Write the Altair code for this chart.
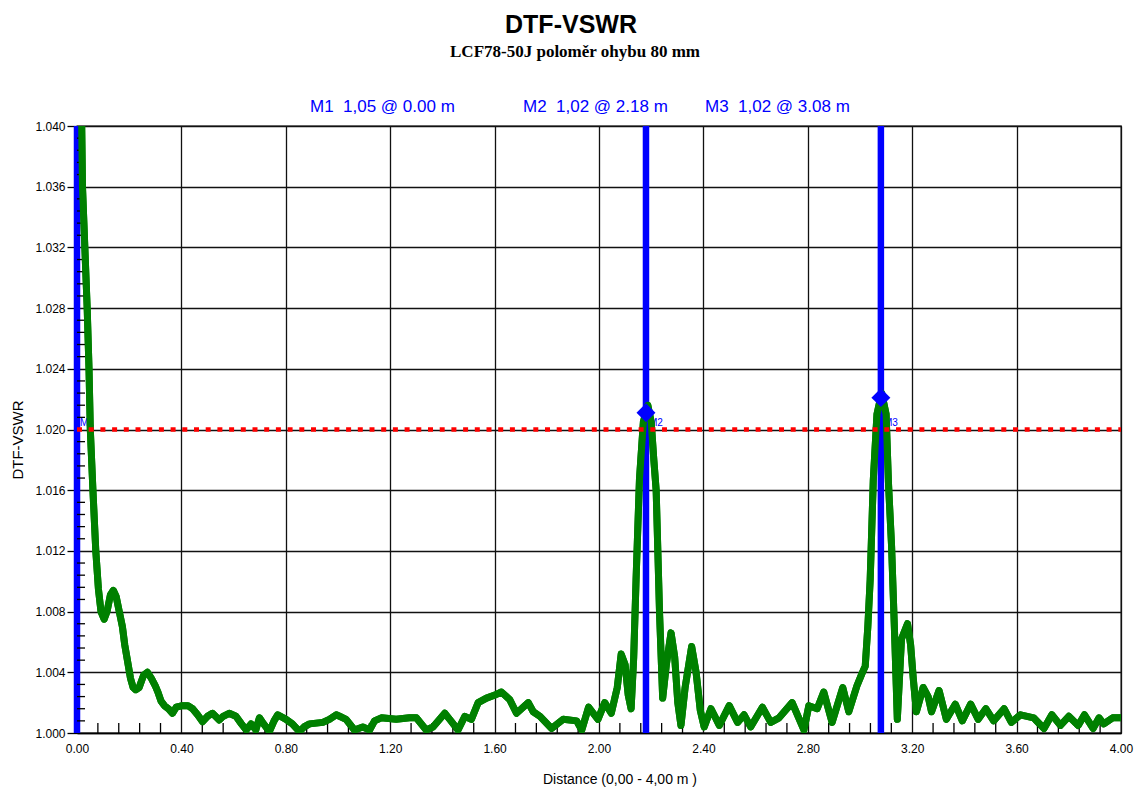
import altair as alt
import pandas as pd

# ---- chart texts ----
title_text = "DTF-VSWR"
subtitle_text = "LCF78-50J poloměr ohybu 80 mm"
y_title = "DTF-VSWR"
x_title = "Distance (0,00 - 4,00 m )"

# ---- axes ----
x_ticks = [0.0, 0.4, 0.8, 1.2, 1.6, 2.0, 2.4, 2.8, 3.2, 3.6, 4.0]
y_ticks = [1.000, 1.004, 1.008, 1.012, 1.016, 1.020, 1.024, 1.028, 1.032, 1.036, 1.040]
x_minor = [round(0.08 * i, 2) for i in range(51) if i % 5]
y_minor = [round(1.0 + 0.0008 * i, 4) for i in range(51) if i % 5]

# ---- limit line ----
limit_vswr = 1.020

# ---- markers ----
marker_names = ["M1", "M2", "M3"]
marker_dist = [0.00, 2.18, 3.08]
marker_vswr = [1.05, 1.0211, 1.0221]

# ---- distance-to-fault trace ----
distance_m = [
    0.000, 0.018, 0.021, 0.030, 0.039, 0.046, 0.051, 0.061, 0.072, 0.082,
    0.092, 0.104, 0.115, 0.128, 0.139, 0.150, 0.162, 0.174, 0.183, 0.193,
    0.205, 0.215, 0.225, 0.238, 0.255, 0.270, 0.285, 0.300, 0.310, 0.322,
    0.335, 0.350, 0.366, 0.380, 0.404, 0.425, 0.443, 0.462, 0.481, 0.500,
    0.519, 0.545, 0.560, 0.583, 0.609, 0.630, 0.648, 0.667, 0.685, 0.699,
    0.715, 0.737, 0.755, 0.769, 0.801, 0.825, 0.852, 0.870, 0.891, 0.942,
    0.967, 0.993, 1.006, 1.031, 1.063, 1.095, 1.121, 1.140, 1.166, 1.223,
    1.274, 1.300, 1.338, 1.364, 1.409, 1.428, 1.460, 1.486, 1.511, 1.537,
    1.569, 1.601, 1.626, 1.658, 1.684, 1.729, 1.748, 1.774, 1.818, 1.863,
    1.914, 1.934, 1.960, 1.996, 2.022, 2.047, 2.070, 2.085, 2.100, 2.112,
    2.123, 2.133, 2.142, 2.155, 2.170, 2.187, 2.200, 2.210, 2.219, 2.232,
    2.244, 2.258, 2.276, 2.290, 2.302, 2.314, 2.330, 2.355, 2.372, 2.388,
    2.403, 2.429, 2.461, 2.499, 2.531, 2.556, 2.581, 2.626, 2.658, 2.690,
    2.740, 2.785, 2.804, 2.836, 2.861, 2.893, 2.934, 2.957, 2.988, 3.007,
    3.020, 3.030, 3.039, 3.051, 3.065, 3.083, 3.100, 3.109, 3.121, 3.134,
    3.143, 3.159, 3.182, 3.194, 3.204, 3.216, 3.242, 3.261, 3.274, 3.303,
    3.331, 3.365, 3.392, 3.424, 3.453, 3.482, 3.512, 3.552, 3.580, 3.615,
    3.665, 3.705, 3.735, 3.768, 3.800, 3.836, 3.860, 3.893, 3.916, 3.934,
    3.968, 4.000,
]
vswr = [
    1.0500, 1.0400, 1.0360, 1.0320, 1.0280, 1.0240, 1.0200, 1.0160, 1.0120, 1.0095,
    1.0080, 1.0075, 1.0080, 1.0091, 1.0094, 1.0090, 1.0080, 1.0070, 1.0058, 1.0048,
    1.0036, 1.0030, 1.00285, 1.0030, 1.0038, 1.0040, 1.0036, 1.0031, 1.0027, 1.0021,
    1.0018, 1.0016, 1.0013, 1.0017, 1.0018, 1.0018, 1.0016, 1.0012, 1.00075, 1.0011,
    1.0013, 1.00086, 1.0011, 1.0013, 1.0011, 1.0006, 1.0002, 1.0006, 1.0002, 1.0010,
    1.0006, 1.0001, 1.0008, 1.0012, 1.0009, 1.0006, 1.0001, 1.0004, 1.0006, 1.0007,
    1.0009, 1.0012, 1.0011, 1.0009, 1.0002, 1.0004, 1.0002, 1.0008, 1.0010, 1.0009,
    1.0010, 1.0010, 1.0002, 1.0004, 1.0013, 1.0009, 1.0002, 1.0011, 1.0009, 1.0020,
    1.0023, 1.0025, 1.0027, 1.0022, 1.0013, 1.0020, 1.0014, 1.0011, 1.0003, 1.0009,
    1.0008, 1.0002, 1.0017, 1.0009, 1.0020, 1.0013, 1.0030, 1.0052, 1.0045, 1.0025,
    1.0016, 1.0050, 1.0101, 1.0167, 1.0205, 1.0216, 1.0205, 1.0180, 1.0160, 1.0079,
    1.0023, 1.0045, 1.0066, 1.0050, 1.0020, 1.0005, 1.0030, 1.0057, 1.0040, 1.0015,
    1.0004, 1.0016, 1.0005, 1.0018, 1.0007, 1.0012, 1.0004, 1.0017, 1.0007, 1.0010,
    1.0020, 1.0002, 1.0018, 1.0016, 1.0027, 1.0007, 1.0030, 1.0014, 1.0031, 1.0039,
    1.0044, 1.0070, 1.0101, 1.0167, 1.0210, 1.0224, 1.0210, 1.0165, 1.0123, 1.0058,
    1.0009, 1.0062, 1.0072, 1.0058, 1.0036, 1.0014, 1.0030, 1.0024, 1.0014, 1.0028,
    1.0009, 1.0019, 1.0008, 1.0019, 1.0009, 1.0016, 1.0008, 1.0016, 1.0007, 1.0012,
    1.0010, 1.0003, 1.0012, 1.0005, 1.0011, 1.0005, 1.0012, 1.0003, 1.0010, 1.0006,
    1.0010, 1.0010,
]

# ---- layout (pixels) ----
W, H = 1044, 607
SANS = "Liberation Sans"
SERIF = "Liberation Serif"

trace = pd.DataFrame({"distance": distance_m, "vswr": vswr})
markers = pd.DataFrame({"name": marker_names, "distance": marker_dist, "vswr": marker_vswr})
markers["label"] = [
    f"{n}\u00a0\u00a0{v:.2f}".replace(".", ",") + f" @ {d:.2f} m"
    for n, v, d in zip(marker_names, marker_vswr, marker_dist)
]

x_scale = alt.Scale(domain=[0, 4], nice=False, zero=False)
y_scale = alt.Scale(domain=[1.0, 1.04], nice=False, zero=False)

axis_common = dict(
    title=None, grid=True, gridColor="#111111", gridWidth=1.3,
    domainColor="black", domainWidth=1.5, labelColor="black",
    labelFont=SANS, labelFontSize=12, labelFlush=False, labelOverlap=False,
    labelBound=False,
)
# the same axis objects are used by every layer so the shared axes merge cleanly
x_axis = alt.Axis(values=x_ticks, format=".2f", ticks=False, labelPadding=10, **axis_common)
y_axis = alt.Axis(values=y_ticks, format=".3f", ticks=True, tickSize=10, tickColor="black",
                  tickWidth=1.3, labelPadding=2, **axis_common)


def X(field):
    return alt.X(field, scale=x_scale, axis=x_axis)


def Y(field):
    return alt.Y(field, scale=y_scale, axis=y_axis)


line = alt.Chart(trace).mark_line(
    color="#008000", strokeWidth=7, clip=True, strokeJoin="round"
).encode(x=X("distance:Q"), y=Y("vswr:Q"), order=alt.Order("distance:Q"))

# inward minor ticks
x_minor_ticks = alt.Chart(pd.DataFrame({"distance": x_minor})).mark_rule(
    color="black", strokeWidth=1.3
).encode(x=X("distance:Q"), y=alt.value(H), y2=alt.value(H - 10))
y_minor_ticks = alt.Chart(pd.DataFrame({"vswr": y_minor})).mark_rule(
    color="black", strokeWidth=1.3
).encode(y=Y("vswr:Q"), x=alt.value(0), x2=alt.value(8))

marker_lines = alt.Chart(markers).mark_rule(color="#0000FF", strokeWidth=6.5).encode(
    x=X("distance:Q"), y=alt.value(0), y2=alt.value(H)
)

marker_tags = alt.Chart(markers).transform_calculate(
    lim=str(limit_vswr)
).mark_text(
    color="#0000FF", font=SANS, fontSize=10, align="left", baseline="bottom", dx=3, dy=-2
).encode(x=X("distance:Q"), y=Y("lim:Q"), text="name:N")

limit_line = alt.Chart(pd.DataFrame({"vswr": [limit_vswr]})).mark_rule(
    color="#FF0000", strokeWidth=4.5, strokeDash=[5, 6.7]
).encode(y=Y("vswr:Q"), x=alt.value(0), x2=alt.value(W))

diamonds = alt.Chart(markers).mark_point(
    shape="diamond", filled=True, color="#0000FF", size=360, opacity=1, clip=True
).encode(x=X("distance:Q"), y=Y("vswr:Q"))


def text_layer(txt, x, y, **kw):
    return alt.Chart(pd.DataFrame({"t": [txt]})).mark_text(**kw).encode(
        text="t:N", x=alt.value(x), y=alt.value(y)
    )


header_x = [233, 446, 628]
headers = [
    text_layer(lbl, hx, -14, font=SANS, fontSize=17, color="#0000FF", align="left", baseline="alphabetic")
    for lbl, hx in zip(markers["label"], header_x)
]

title = text_layer(title_text, 494, -93, font=SANS, fontSize=25, fontWeight="bold",
                   color="black", align="center", baseline="alphabetic")
subtitle = text_layer(subtitle_text, 498, -69, font=SERIF, fontSize=17, fontWeight="bold",
                      color="black", align="center", baseline="alphabetic")
ytitle = text_layer(y_title, -59, 314, font=SANS, fontSize=15, color="black", angle=270,
                    align="center", baseline="middle")
xtitle = text_layer(x_title, 543, 658, font=SANS, fontSize=14, color="black",
                    align="center", baseline="alphabetic")

# trace drawn over the marker lines; limit line and diamonds on top
chart = alt.layer(
    line, marker_lines, marker_tags, x_minor_ticks, y_minor_ticks, line, limit_line, diamonds,
    title, subtitle, ytitle, xtitle, *headers,
).properties(
    width=W, height=H,
    padding={"left": 77, "top": 126, "right": 21, "bottom": 57},
    autosize=alt.AutoSizeParams(type="none"),
    background="white",
).configure_view(stroke="black", strokeWidth=1.3)

chart.save("out.html", embed_options={"renderer": "svg", "actions": False})
